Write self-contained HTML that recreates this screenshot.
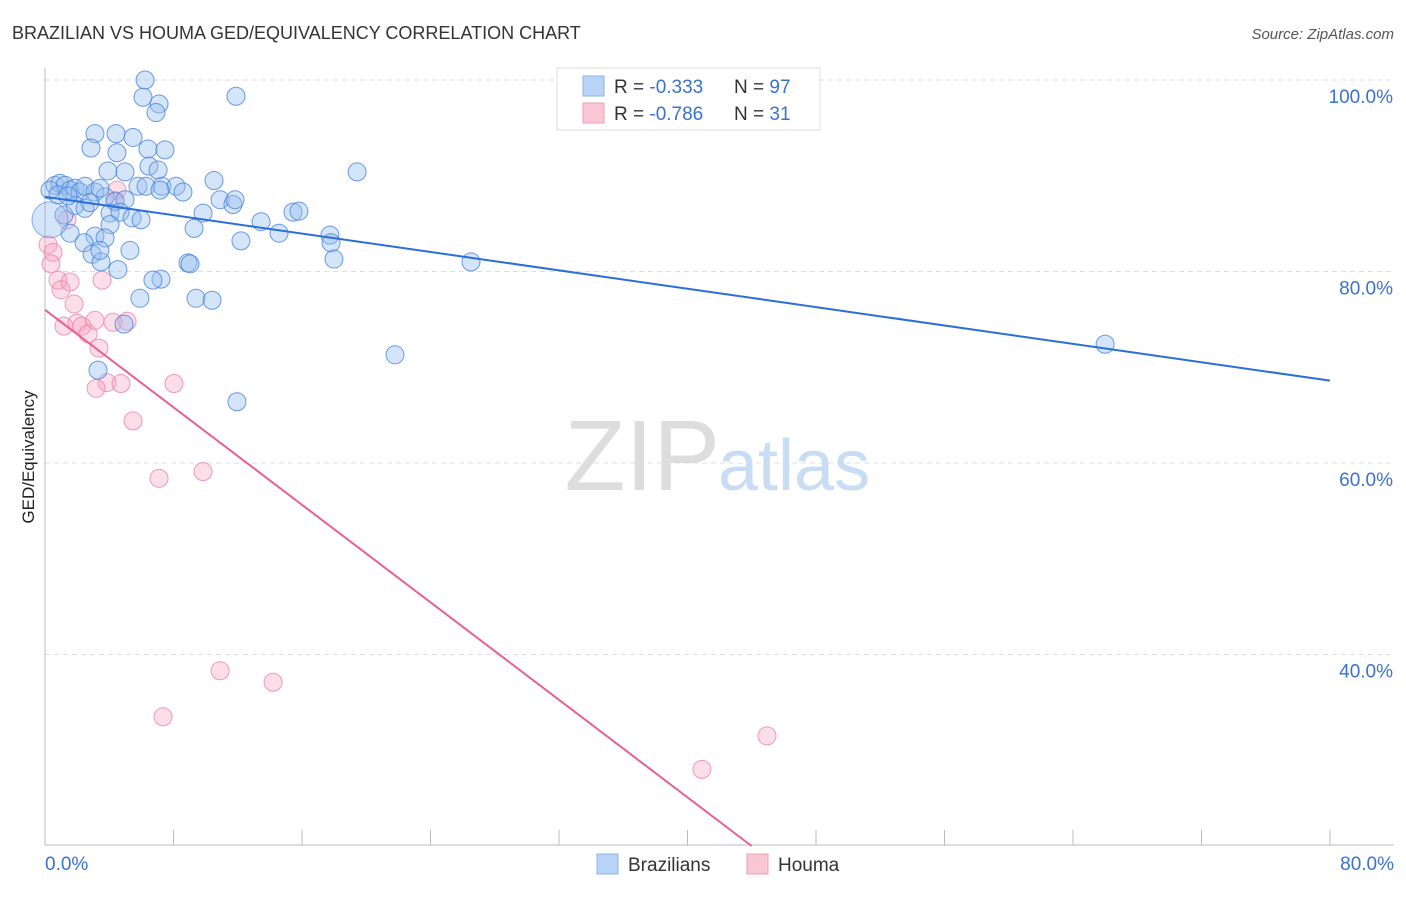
<!DOCTYPE html>
<html><head><meta charset="utf-8"><style>
body{margin:0;background:#fff;font-family:"Liberation Sans",sans-serif}
svg text{font-family:"Liberation Sans",sans-serif}
</style></head><body>
<svg id="chart" width="1406" height="892">
<text x="12" y="39" font-size="18" fill="#333">BRAZILIAN VS HOUMA GED/EQUIVALENCY CORRELATION CHART</text>
<text x="1394" y="39" font-size="15" fill="#555" text-anchor="end" font-style="italic">Source: ZipAtlas.com</text>
<g id="grid"></g>
<text x="720" y="490" font-size="100" fill="#ddd" text-anchor="end" font-family="Liberation Serif">ZIP</text>
<text x="718" y="490" font-size="72" fill="#c8dcf3">atlas</text>
<g id="marks"></g>
<text transform="translate(34,457) rotate(-90)" font-size="17" fill="#222" text-anchor="middle">GED/Equivalency</text>
<g>
<rect x="557" y="68" width="263" height="62" fill="#fff" stroke="#ddd"/>
<rect x="583" y="76" width="21" height="20" fill="#b8d3f5" stroke="#8ab4ea"/>
<rect x="583" y="103" width="21" height="20" fill="#f9c6d5" stroke="#ef9db8"/>
<text x="614" y="93" font-size="19" fill="#333">R = <tspan fill="#3a72d0">-0.333</tspan></text>
<text x="734" y="93" font-size="19" fill="#333">N = <tspan fill="#3a72d0">97</tspan></text>
<text x="614" y="120" font-size="19" fill="#333">R = <tspan fill="#3a72d0">-0.786</tspan></text>
<text x="734" y="120" font-size="19" fill="#333">N = <tspan fill="#3a72d0"> 31</tspan></text>
</g>
<g>
<rect x="597" y="854" width="21" height="20" fill="#b8d3f5" stroke="#8ab4ea"/>
<text x="628" y="871" font-size="19" fill="#333">Brazilians</text>
<rect x="747" y="854" width="21" height="20" fill="#f9c6d5" stroke="#ef9db8"/>
<text x="778" y="871" font-size="19" fill="#333">Houma</text>
</g>
</svg>
<script>
const xTicksLabels=["0.0%","80.0%"];
const yTickValues=[100,80,60,40];
const blueX=[6.23,11.89,6.10,7.10,6.91,3.11,4.42,5.48,2.86,4.48,6.41,7.47,6.47,7.04,3.92,4.98,19.43,10.52,5.79,6.29,7.28,8.16,8.59,7.16,0.62,0.93,1.25,1.56,1.87,2.18,2.49,3.11,3.74,4.36,4.98,10.90,11.70,11.83,4.05,4.67,5.42,5.98,9.84,13.45,15.44,15.81,1.18,1.87,2.49,2.80,4.05,1.56,3.11,3.74,2.43,2.93,3.49,3.42,5.29,9.28,14.57,17.74,17.81,17.99,12.20,26.52,8.90,9.03,4.54,7.22,6.72,5.91,9.40,10.40,4.92,21.79,3.30,11.95,66.00,0.31,0.81,1.43,3.42];
const blueY=[100,98.3,98.2,97.5,96.6,94.4,94.4,94.0,92.9,92.4,92.8,92.7,91.0,90.6,90.5,90.4,90.4,89.5,88.9,88.9,88.9,88.9,88.3,88.5,89.0,89.2,89.0,88.5,88.7,88.3,88.9,88.3,87.8,87.3,87.5,87.5,87.0,87.5,86.1,86.2,85.6,85.4,86.1,85.2,86.2,86.3,85.9,86.9,86.6,87.2,84.9,84.0,83.7,83.5,83.0,81.8,81.0,82.2,82.2,84.5,84.0,83.8,83.0,81.3,83.2,81.0,80.9,80.8,80.2,79.2,79.1,77.2,77.2,77.0,74.5,71.3,69.7,66.4,72.4,88.5,88.0,87.9,88.7];
const pinkX=[0.19,0.50,0.37,0.81,1.56,1.00,1.81,3.55,1.18,1.99,2.30,2.68,3.11,4.23,5.11,3.36,3.86,4.73,3.18,8.03,5.48,7.10,9.84,10.90,14.20,7.35,44.95,40.90,4.48,1.37,4.36];
const pinkY=[82.8,82.0,80.8,79.1,78.9,78.1,76.6,79.1,74.3,74.6,74.3,73.5,74.9,74.7,74.8,72.0,68.4,68.3,67.8,68.3,64.4,58.4,59.1,38.3,37.1,33.5,31.5,28.0,88.5,85.4,87.4];
const blueLine=[87.8,68.6];
const pinkLine=[76.0,-1.273];
const X0=45,X1=1330,Y0=80,Ypx=9.575;
const sx=v=>X0+(v/80)*(X1-X0);
const sy=v=>Y0+(100-v)*Ypx;
const NS="http://www.w3.org/2000/svg";
const grid=document.getElementById('grid');
const marks=document.getElementById('marks');
function mk(tag,attrs,parent){const e=document.createElementNS(NS,tag);for(const k in attrs)e.setAttribute(k,attrs[k]);parent.appendChild(e);return e;}
yTickValues.forEach(v=>{
 const l=mk('line',{x1:X0,x2:1394,y1:sy(v),y2:sy(v),stroke:'#ddd','stroke-dasharray':'5,4'},grid);
 
 
 const t=mk('text',{x:1393,y:sy(v)+23,'font-size':19,fill:'#3a72d0','text-anchor':'end'},grid);
 t.textContent=v.toFixed(1)+'%';
 
 
});
const ax=mk('line',{x1:X0,x2:X0,y1:68,y2:845,stroke:'#bbb'},grid);


const bx=mk('line',{x1:X0,x2:1394,y1:845,y2:845,stroke:'#bbb'},grid);


for(let i=0;i<=10;i++){
 const tk=mk('line',{x1:sx(i*8),x2:sx(i*8),y1:830,y2:845,stroke:'#bbb'},grid);
 
 
}
[[0,'start',45],[80,'end',1394]].forEach((d,i)=>{
 const t=mk('text',{x:d[2],y:870,'font-size':19,fill:'#3a72d0','text-anchor':d[1]},grid);
 t.textContent=xTicksLabels[i];
 
 
});
pinkX.forEach((x,i)=>{
 const c=mk('circle',{cx:sx(x),cy:sy(pinkY[i]),r:9,fill:'rgba(245,160,190,0.35)',stroke:'rgba(235,130,165,0.8)','stroke-width':1},marks);
 
 
});
blueX.forEach((x,i)=>{
 const c=mk('circle',{cx:sx(x),cy:sy(blueY[i]),r:9,fill:'rgba(150,190,240,0.4)',stroke:'rgba(70,130,220,0.8)','stroke-width':1},marks);
 
 
});
const big=mk('circle',{cx:sx(0.31),cy:sy(85.4),r:18,fill:'rgba(150,190,240,0.4)',stroke:'rgba(70,130,220,0.6)'},marks);


const bl=mk('line',{x1:sx(0),y1:sy(blueLine[0]),x2:sx(80),y2:sy(blueLine[1]),stroke:'#2a6fd6','stroke-width':2},marks);


const xEnd=(20-pinkLine[0])/pinkLine[1];
const pl=mk('line',{x1:sx(0),y1:sy(pinkLine[0]),x2:sx(xEnd),y2:sy(20),stroke:'#e8608e','stroke-width':2},marks);


</script>
</body></html>
